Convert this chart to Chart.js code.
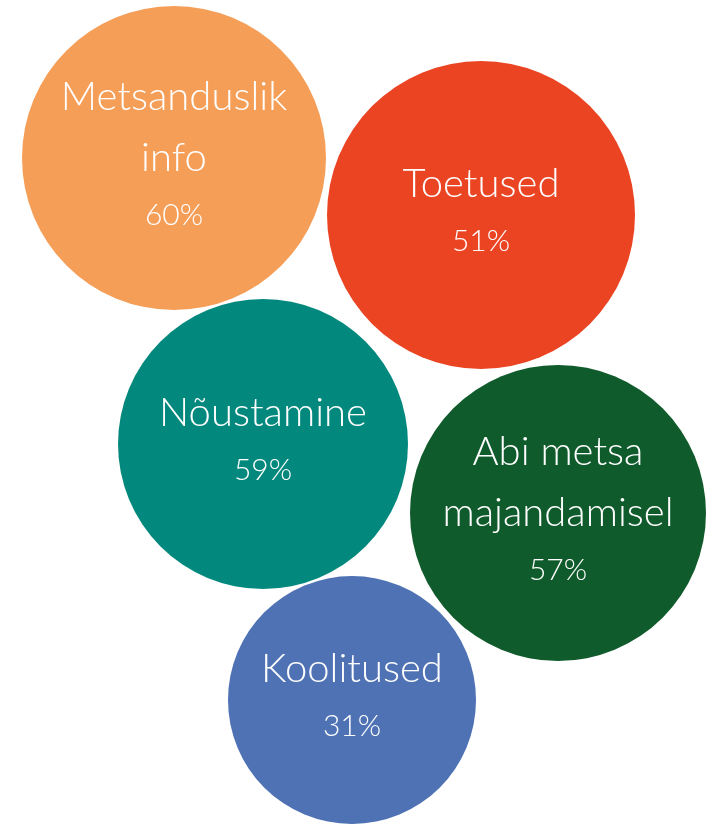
<!DOCTYPE html>
<html>
<head>
<meta charset="utf-8">
<script src="https://cdn.jsdelivr.net/npm/chart.js@4/dist/chart.umd.min.js"></script>
<style>
  html, body { margin: 0; padding: 0; background: #fff; }
  canvas { display: block; }
</style>
</head>
<body>
<canvas id="bubbleChart" width="712" height="825"></canvas>
<script>
const names = [["Metsanduslik", "info"], ["Toetused"], ["Nõustamine"], ["Abi metsa", "majandamisel"], ["Koolitused"]];
const shares = [60, 51, 59, 57, 31];
const bubbleX = [174, 481, 263, 558, 352];
const bubbleY = [158, 215, 444, 513, 700];
const bubbleR = [152, 154, 145, 148, 124];
const colors = ["#F59E58", "#EA4423", "#03887D", "#105B2B", "#4E72B4"];

const points = bubbleX.map((x, i) => ({ x: x, y: bubbleY[i], r: bubbleR[i] }));

// write name + percentage in the middle of each bubble
const bubbleLabels = {
  id: "bubbleLabels",
  afterDatasetsDraw(chart) {
    const ctx = chart.ctx;
    const meta = chart.getDatasetMeta(0);
    ctx.save();
    ctx.fillStyle = "#ffffff";
    ctx.textAlign = "center";
    ctx.textBaseline = "alphabetic";
    meta.data.forEach((el, i) => {
      const lines = names[i];
      const steps = (lines.length - 1) * 61 + 54;
      let y = el.y + 9 - steps / 2;
      ctx.font = "300 40px Lato";
      lines.forEach((t) => {
        ctx.fillText(t, el.x, y);
        y += 61;
      });
      y = y - 61 + 54;
      ctx.font = "300 30px Lato";
      ctx.fillText(shares[i] + "%", el.x, y);
    });
    ctx.restore();
  }
};

const chart = new Chart(document.getElementById("bubbleChart").getContext("2d"), {
  type: "bubble",
  data: {
    datasets: [{
      data: points,
      backgroundColor: colors,
      borderWidth: 0,
      clip: false
    }]
  },
  options: {
    responsive: false,
    animation: false,
    layout: { padding: 0, autoPadding: false },
    scales: {
      x: { type: "linear", min: 0, max: 712, display: false },
      y: { type: "linear", min: 0, max: 825, reverse: true, display: false }
    },
    plugins: {
      legend: { display: false },
      tooltip: { enabled: false }
    }
  },
  plugins: [bubbleLabels]
});
</script>
</body>
</html>
